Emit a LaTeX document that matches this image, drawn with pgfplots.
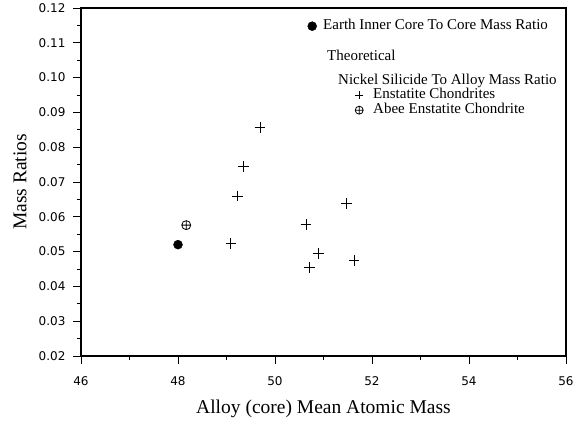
\documentclass[border=0pt]{standalone}
\usepackage{pgfplots}
\pgfplotsset{compat=1.18}
\usepackage{fontspec}
\setmainfont{Liberation Serif}
\newfontfamily\tickfont{DejaVu Sans}
\begin{document}
\begin{tikzpicture}
\pgfplotsset{
  base/.style={
    scale only axis, width=485pt, height=348pt,
    at={(0pt,0pt)}, anchor=south west,
    xmin=46, xmax=56, ymin=0.02, ymax=0.12,
    clip=false,
    legend image code/.code={\path[draw=none,fill=none] (-5pt,-5pt) rectangle (5pt,5pt); \draw[##1] plot coordinates {(0pt,0pt)};},
    legend style={draw=none, fill=none, inner xsep=0pt, inner ysep=0pt,
      nodes={inner sep=0pt, text height=10pt, text depth=3pt},
      cells={anchor=west}, row sep=2pt,
      font=\fontsize{15}{18}\selectfont},
  },
  smallleg/.style={
    legend image code/.code={\path[draw=none,fill=none] (-5pt,-5pt) rectangle (5pt,5pt); \draw[##1, mark size=4pt] plot coordinates {(0pt,0pt)};},
  }
}
\begin{axis}[base,
  axis line style={line width=1.3pt},
  xtick={46,48,...,56}, minor x tick num=1,
  ytick={0.02,0.03,...,0.12}, minor y tick num=1,
  xtick pos=bottom, ytick pos=left,
  tick align=outside, major tick length=8pt, minor tick length=4pt,
  tick style={black, line width=0.8pt},
  /pgf/number format/assume math mode=true,
  scaled y ticks=false,
  tick label style={font=\tickfont\fontsize{12}{14}\selectfont},
  xticklabel style={yshift=-9pt},
  yticklabel style={xshift=-4pt, /pgf/number format/.cd, fixed, fixed zerofill, precision=2},
  xlabel={Alloy (core) Mean Atomic Mass},
  ylabel={Mass Ratios},
  label style={font=\fontsize{19.5}{23}\selectfont},
  x label style={at={(axis description cs:0.5,-0.152)}, anchor=center},
  y label style={at={(axis description cs:-0.1258,0.5)}, anchor=center, rotate=0},
  legend style={at={(0.466,0.967)}, anchor=north west, column sep=6pt},
]
\addplot[only marks, mark=*, mark size=4.5pt, black] coordinates {(48.0,0.0520)};
\addlegendentry{Earth Inner Core To Core Mass Ratio}
\end{axis}
\begin{axis}[base, smallleg, hide axis,
  legend style={at={(0.5629,0.7687)}, anchor=north west, column sep=9pt},
]
\addplot[only marks, mark=+, mark size=5.3pt, line width=0.8pt, black] coordinates {
(49.69,0.0856) (49.35,0.0744) (49.23,0.0660) (49.09,0.0524) (50.64,0.0578)
(50.90,0.0495) (50.71,0.0454) (51.63,0.0475) (51.48,0.0639)};
\addlegendentry{Enstatite Chondrites}
\addplot[only marks, mark=oplus, mark size=4.5pt, line width=0.8pt, black] coordinates {(48.17,0.0576)};
\addlegendentry{Abee Enstatite Chondrite}
\end{axis}
\node[anchor=west, inner sep=0pt, font=\fontsize{15}{18}\selectfont] at (246pt,301pt) {Theoretical};
\node[anchor=west, inner sep=0pt, font=\fontsize{15}{18}\selectfont] at (257pt,275pt) {Nickel Silicide To Alloy Mass Ratio};
\pgfresetboundingbox
\path (-81pt,-75pt) rectangle (493pt,356pt);
\end{tikzpicture}
\end{document}
